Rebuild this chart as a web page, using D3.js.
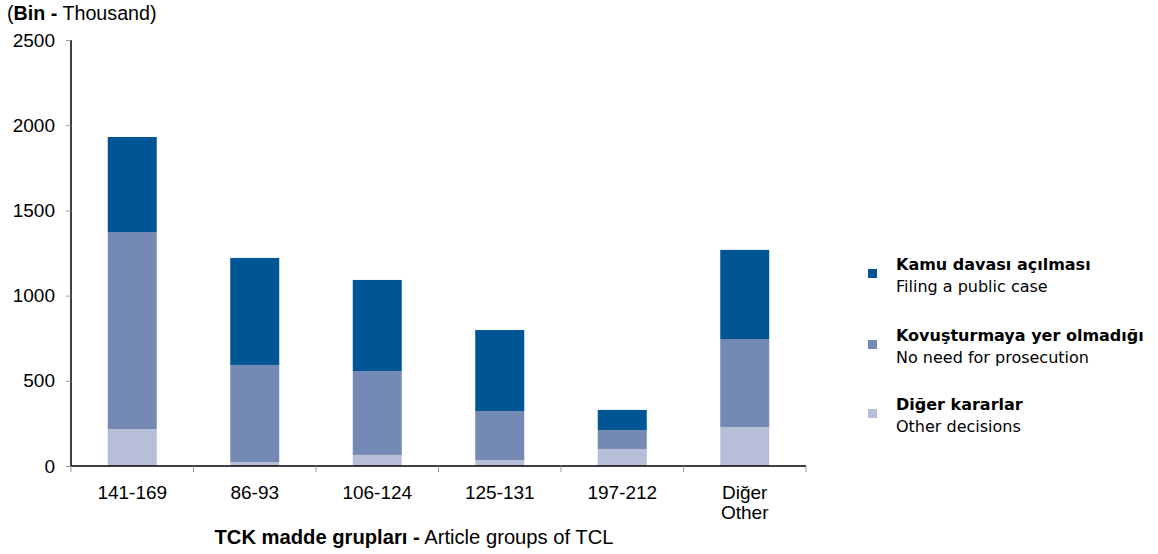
<!DOCTYPE html>
<html><head><meta charset="utf-8">
<script src="https://cdn.jsdelivr.net/npm/d3@7"></script>
<style>body{margin:0;background:#fff}</style>
</head><body>
<svg id="c" width="1158" height="554"></svg>
<script>
const categories = ["141-169", "86-93", "106-124", "125-131", "197-212", "Diğer|Other"];
const otherDecisions = [217, 23, 65, 35, 100, 229];
const noNeedProsecution = [1156, 570, 492, 288, 111, 516];
const filingPublicCase = [558, 628, 535, 475, 118, 523];
const yTicks = [0, 500, 1000, 1500, 2000, 2500];
const seriesNames = [
  {tr: "Kamu davası açılması", en: "Filing a public case", key: "filing"},
  {tr: "Kovuşturmaya yer olmadığı", en: "No need for prosecution", key: "noneed"},
  {tr: "Diğer kararlar", en: "Other decisions", key: "other"}
];
const colors = {filing: "#005694", noneed: "#7589B5", other: "#B6BED8"};

const svg = d3.select("#c");
const pL = 71, pR = 806, pT = 40, pB = 466;
const axisFont = "'Liberation Sans', Arial, sans-serif";

const x = d3.scaleBand().domain(categories).range([pL, pR]);
const y = d3.scaleLinear().domain([0, 2500]).range([pB, pT]);

const rows = categories.map((c, i) => ({cat: c, other: otherDecisions[i], noneed: noNeedProsecution[i], filing: filingPublicCase[i]}));
const stack = d3.stack().keys(["other", "noneed", "filing"])(rows);

const bw = x.bandwidth() * 0.4;
svg.append("g").selectAll("g").data(stack).join("g")
  .attr("fill", d => colors[d.key])
  .selectAll("rect").data(d => d).join("rect")
  .attr("x", d => x(d.data.cat) + (x.bandwidth() - bw) / 2)
  .attr("width", bw)
  .attr("y", d => y(d[1]))
  .attr("height", d => y(d[0]) - y(d[1]));

// Y axis
const yAxis = svg.append("g").attr("transform", `translate(${pL},0)`)
  .call(d3.axisLeft(y).tickValues(yTicks).tickSize(5).tickPadding(11).tickFormat(d3.format("d")));
yAxis.select(".domain").attr("stroke", "#000").attr("stroke-width", 1.5).attr("d", `M0,${pT}V${pB}`);
yAxis.selectAll(".tick line").attr("stroke", "#999");
yAxis.selectAll("text").attr("font-family", axisFont).attr("font-size", 19).attr("fill", "#000");

// X axis
const xAxis = svg.append("g").attr("transform", `translate(0,${pB})`)
  .call(d3.axisBottom(x).tickSize(0).tickFormat(""));
xAxis.select(".domain").attr("stroke", "#000").attr("stroke-width", 1.5).attr("d", `M${pL},0H${pR}`);
const bounds = [pL, ...categories.map(c => x(c) + x.bandwidth())];
xAxis.selectAll(".bt").data(bounds).join("line").attr("class", "bt")
  .attr("x1", d => d).attr("x2", d => d).attr("y1", 0).attr("y2", 6).attr("stroke", "#999");
xAxis.selectAll(".tick").each(function(d) {
  const parts = d.split("|");
  const t = d3.select(this).append("text").attr("fill", "#000").attr("font-family", axisFont)
    .attr("font-size", 19).attr("text-anchor", "middle").attr("y", 33);
  parts.forEach((p, i) => t.append("tspan").attr("x", 0).attr("dy", i === 0 ? 0 : 20).text(p));
});

// Title
const tt = svg.append("text").attr("x", 7).attr("y", 20).attr("font-family", axisFont).attr("font-size", 19.7).attr("fill", "#000");
tt.append("tspan").text("(");
tt.append("tspan").attr("font-weight", "bold").text("Bin -");
tt.append("tspan").text(" Thousand)");

const xt = svg.append("text").attr("x", 414).attr("y", 544).attr("text-anchor", "middle")
  .attr("font-family", axisFont).attr("font-size", 20.2).attr("fill", "#000");
xt.append("tspan").attr("font-weight", "bold").text("TCK madde grupları -");
xt.append("tspan").text(" Article groups of TCL");

// Legend
const legFont = "'DejaVu Sans', Verdana, sans-serif";
const lg = svg.append("g").selectAll("g").data(seriesNames).join("g")
  .attr("transform", (d, i) => `translate(0,${[269, 340, 409][i]})`);
lg.append("rect").attr("x", 868).attr("y", 0).attr("width", 9).attr("height", 9).attr("fill", d => colors[d.key]);
lg.append("text").attr("x", 896).attr("y", 1).attr("font-family", legFont).attr("font-size", 16)
  .attr("font-weight", "bold").attr("fill", "#000").text(d => d.tr);
lg.append("text").attr("x", 896).attr("y", 23).attr("font-family", legFont).attr("font-size", 16)
  .attr("fill", "#000").text(d => d.en);
</script>
</body></html>
